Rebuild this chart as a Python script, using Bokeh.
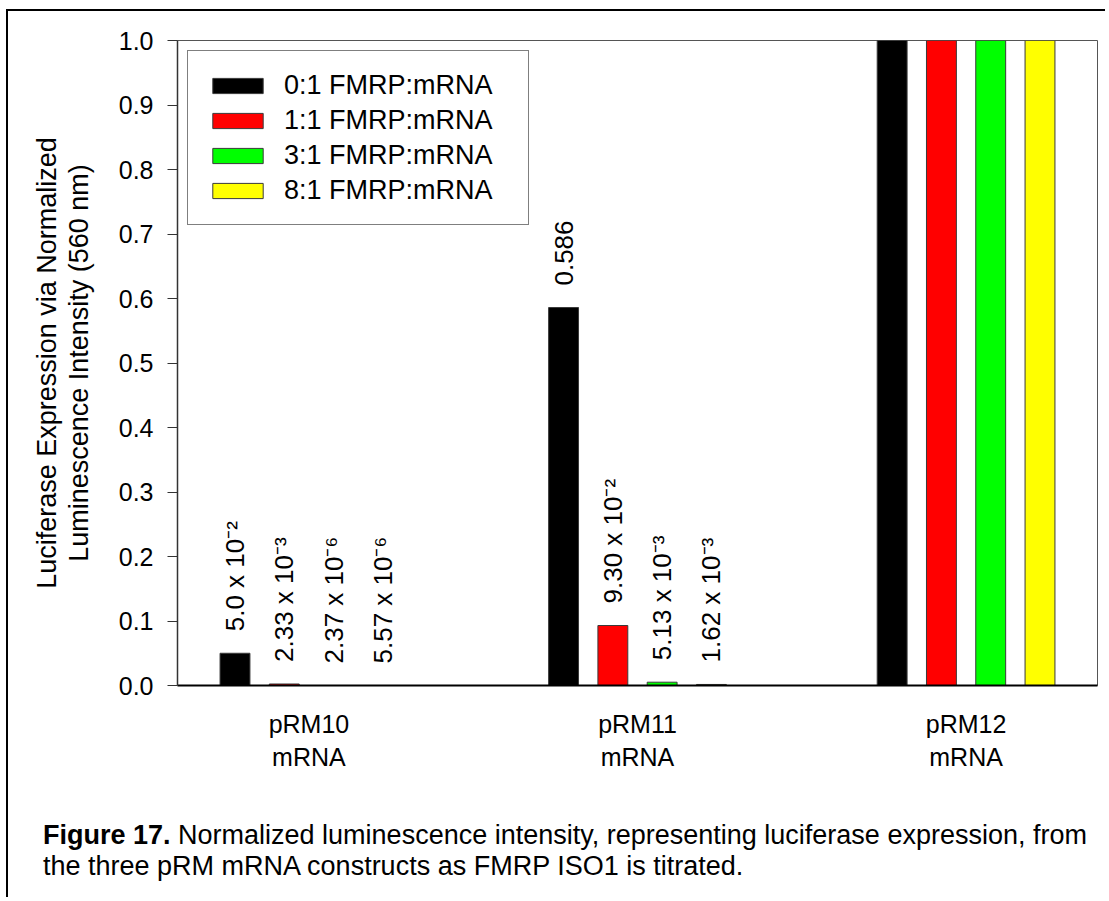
import math
import html
from bokeh.plotting import figure
from bokeh.layouts import column
from bokeh.models import Range1d, FixedTicker, NumeralTickFormatter, ColumnDataSource, Div
from bokeh.embed import file_html
from bokeh.resources import INLINE
from bokeh.core.properties import value

# ---- data ----
group_pos = [1, 2, 3]
group_labels = ["pRM10\nmRNA", "pRM11\nmRNA", "pRM12\nmRNA"]
series_names = ["0:1 FMRP:mRNA", "1:1 FMRP:mRNA", "3:1 FMRP:mRNA", "8:1 FMRP:mRNA"]
series_colors = ["#000000", "#ff0000", "#00ff00", "#ffff00"]
series_offsets = [-0.225, -0.075, 0.075, 0.225]
vals_0_1 = [0.050, 0.586, 1.0]
vals_1_1 = [0.00233, 0.0930, 1.0]
vals_3_1 = [2.37e-6, 0.00513, 1.0]
vals_8_1 = [5.57e-6, 0.00162, 1.0]
labels_0_1 = ["5.0 x 10\u207b\u00b2", "0.586", ""]
labels_1_1 = ["2.33 x 10\u207b\u00b3", "9.30 x 10\u207b\u00b2", ""]
labels_3_1 = ["2.37 x 10\u207b\u2076", "5.13 x 10\u207b\u00b3", ""]
labels_8_1 = ["5.57 x 10\u207b\u2076", "1.62 x 10\u207b\u00b3", ""]
y_ticks = [0.0, 0.1, 0.2, 0.3, 0.4, 0.5, 0.6, 0.7, 0.8, 0.9, 1.0]
y_title = "Luciferase Expression via Normalized\nLuminescence Intensity (560 nm)"
caption_bold = "Figure 17."
caption_lines = ["Normalized luminescence intensity, representing luciferase expression, from",
                 "the three pRM mRNA constructs as FMRP ISO1 is titrated."]

all_vals = [vals_0_1, vals_1_1, vals_3_1, vals_8_1]
all_labels = [labels_0_1, labels_1_1, labels_3_1, labels_8_1]

FONT = "Liberation Sans"

# page geometry (column origin at page (8, 11) after margin + border)
OX, OY = 8, 11
W = 1097
H1 = 779
H2 = 107
FRAME_L, FRAME_R, FRAME_T, FRAME_B = 177, 1097, 40, 685

p = figure(width=W, height=H1, output_backend="svg", toolbar_location=None,
           x_range=Range1d(0.6, 3.4), y_range=Range1d(0.0, 1.0),
           min_border_left=FRAME_L - OX, min_border_top=FRAME_T - OY,
           min_border_right=W - (FRAME_R - OX), min_border_bottom=H1 - (FRAME_B - OY))
p.xgrid.visible = False
p.ygrid.visible = False
p.outline_line_color = "#555555"
p.outline_line_width = 1
p.background_fill_color = "white"
p.border_fill_color = "white"

bar_width = 0.091
for name, color, off, vals, labs in zip(series_names, series_colors, series_offsets, all_vals, all_labels):
    xs = [g + off for g in group_pos]
    src = ColumnDataSource(dict(x=xs, top=vals, lab=labs))
    p.vbar(x="x", top="top", bottom=0, width=bar_width, source=src,
           fill_color=color, line_color="#3a3a3a", line_width=1, legend_label=name)
    p.text(x="x", y="top", text="lab", source=src, angle=math.pi / 2,
           text_align="left", text_baseline="middle", y_offset=-22,
           text_font=value(FONT), text_font_size="26px", text_color="black")

# axes
yax = p.yaxis[0]
yax.ticker = FixedTicker(ticks=y_ticks)
yax.formatter = NumeralTickFormatter(format="0.0")
yax.major_tick_out = 10
yax.major_tick_in = 0
yax.minor_tick_line_color = None
yax.major_tick_line_color = "#333333"
yax.axis_line_color = "#333333"
yax.axis_line_width = 1.5
yax.major_label_text_font = FONT
yax.major_label_text_font_size = "25px"
yax.major_label_text_color = "black"
yax.major_label_standoff = 14
yax.axis_label = y_title
yax.axis_label_text_font = FONT
yax.axis_label_text_font_size = "27px"
yax.axis_label_text_font_style = "normal"
yax.axis_label_text_color = "black"
yax.axis_label_text_line_height = 1.05
yax.axis_label_standoff = 22

xax = p.xaxis[0]
xax.ticker = FixedTicker(ticks=group_pos)
xax.major_label_overrides = {g: lab for g, lab in zip(group_pos, group_labels)}
xax.major_tick_line_color = None
xax.minor_tick_line_color = None
xax.axis_line_color = "black"
xax.axis_line_width = 2
xax.major_label_text_font = FONT
xax.major_label_text_font_size = "25px"
xax.major_label_text_color = "black"
xax.major_label_standoff = 18

# legend
lg = p.legend[0]
lg.location = "top_left"
lg.margin = 10
lg.padding = 18
lg.spacing = 3
lg.glyph_width = 63
lg.glyph_height = 19
lg.label_height = 32
lg.label_width = 226
lg.label_standoff = 15
lg.label_text_font = FONT
lg.label_text_font_size = "27px"
lg.label_text_color = "black"
lg.border_line_color = "black"
lg.border_line_width = 1
lg.background_fill_alpha = 1.0

# caption as a text block below the chart
caption_html = ("<b>" + html.escape(caption_bold) + "</b> " + html.escape(caption_lines[0])
                + "<br>" + html.escape(caption_lines[1]))
cap = Div(text=caption_html, width=W, height=H2, margin=0,
          styles={"font-family": FONT, "font-size": "27px", "line-height": "31px",
                  "color": "black", "white-space": "nowrap",
                  "padding-left": f"{43 - OX}px", "padding-top": "30px",
                  "box-sizing": "border-box", "background": "white"})

layout = column(p, cap, spacing=0,
                styles={"margin-left": "6px", "margin-top": "9px",
                        "border-left": "2px solid black", "border-top": "2px solid black"})

open("out.html", "w").write(file_html(layout, INLINE))
